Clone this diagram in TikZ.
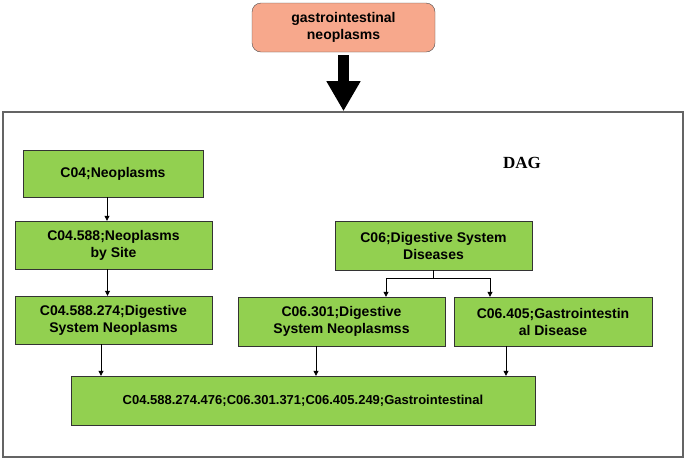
\documentclass[tikz,border=0pt]{standalone}
\usepackage{fontspec}
\setmainfont{Liberation Sans}
\newfontfamily\dagfont{Liberation Serif}
\usepackage{tikz}
\usetikzlibrary{arrows.meta, positioning, calc}
\definecolor{meshgreen}{RGB}{146,208,80}
\definecolor{querybg}{RGB}{247,168,140}
\definecolor{framegray}{RGB}{100,100,100}

\begin{document}
\begin{tikzpicture}[x=1pt, y=-1pt,
  query/.style={draw=black!70, rounded corners=9pt, fill=querybg, minimum width=183pt, minimum height=49pt, align=center, font=\bfseries\fontsize{14}{17}\selectfont},
  term/.style={draw=black!80, fill=meshgreen, inner sep=0pt, align=center, font=\bfseries\fontsize{14}{17}\selectfont},
  arr/.style={-{Triangle[length=5pt, width=5pt]}, line width=0.8pt},
  bigarr/.style={-{Triangle[length=30pt, width=32pt]}, line width=11pt}
]
  \useasboundingbox (0,0) rectangle (685,459);

  \node[query] (query) at (343.5,27.5) {gastrointestinal\\neoplasms};
  \node[draw=framegray, line width=1.6pt, minimum width=680pt, minimum height=345pt] (frame) at (343,284.5) {};
  \node[font=\dagfont\bfseries\fontsize{17}{20}\selectfont] (dag) at (522,162.5) {DAG};

  \node[term, minimum width=180pt, minimum height=47pt] (c04) at (113,173.5) {C04;Neoplasms};
  \node[term, minimum width=197pt, minimum height=48pt] (c04588) at (113.5,245) {C04.588;Neoplasms\\by Site};
  \node[term, minimum width=197pt, minimum height=48pt] (c04588274) at (113.5,320) {C04.588.274;Digestive\\System Neoplasms};
  \node[term, minimum width=197pt, minimum height=49pt] (c06) at (433.5,245.5) {C06;Digestive System\\Diseases};
  \node[term, minimum width=207pt, minimum height=49pt] (c06301) at (341.5,321.5) {C06.301;Digestive\\System Neoplasmss};
  \node[term, minimum width=198pt, minimum height=49pt] (c06405) at (553,321.5) {C06.405;Gastrointestin\\al Disease};
  \node[term, minimum width=464pt, minimum height=49pt, font=\bfseries\fontsize{13}{16}\selectfont] (gi) at (303,400.5) {C04.588.274.476;C06.301.371;C06.405.249;Gastrointestinal};

  \draw[bigarr] ([yshift=-3pt]query.south) -- (frame.north -| query.south);

  \draw[arr] ([xshift=-6pt]c04.south) -- ([xshift=-6pt]c04.south |- c04588.north);
  \draw[arr] ([xshift=-6pt]c04588.south) -- ([xshift=-6pt]c04588.south |- c04588274.north);
  \draw[arr] (c06.south) -- ++(0,8) -| ([xshift=44.5pt]c06301.north);
  \draw[arr] (c06.south) -- ++(0,8) -| ([xshift=-63pt]c06405.north);
  \draw[arr] ([xshift=-12.5pt]c04588274.south) -- ([xshift=-12.5pt]c04588274.south |- gi.north);
  \draw[arr] ([xshift=-25.5pt]c06301.south) -- ([xshift=-25.5pt]c06301.south |- gi.north);
  \draw[arr] ([xshift=-47pt]c06405.south) -- ([xshift=-47pt]c06405.south |- gi.north);
\end{tikzpicture}
\end{document}
